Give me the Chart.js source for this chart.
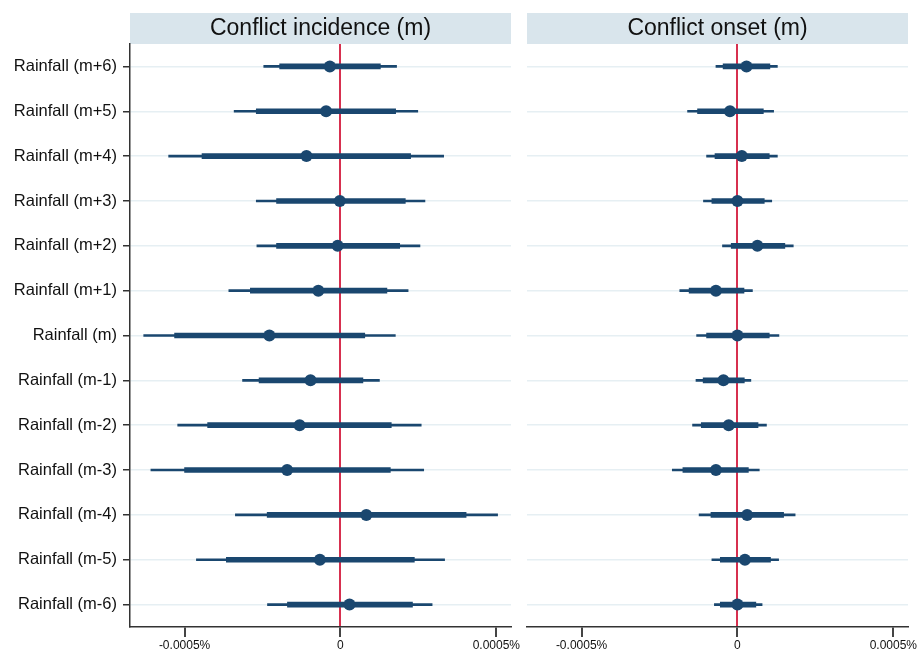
<!DOCTYPE html>
<html>
<head>
<meta charset="utf-8">
<script src="https://cdn.jsdelivr.net/npm/chart.js@4/dist/chart.umd.min.js"></script>
<style>
    html, body { margin: 0; padding: 0; background: #fff; overflow: hidden; }
    #wrap { position: relative; width: 918px; height: 653px; }
    canvas { position: absolute; top: 0; }
</style>
</head>
<body>
<div id="wrap">
    <canvas id="incidence" width="525" height="653" style="left:0"></canvas>
    <canvas id="onset" width="412" height="653" style="left:518px"></canvas>
</div>
<script>
// Coefficient plot - rainfall leads/lags on conflict incidence and onset.

const labels = ['Rainfall (m+6)', 'Rainfall (m+5)', 'Rainfall (m+4)', 'Rainfall (m+3)', 'Rainfall (m+2)',
    'Rainfall (m+1)', 'Rainfall (m)', 'Rainfall (m-1)', 'Rainfall (m-2)', 'Rainfall (m-3)',
    'Rainfall (m-4)', 'Rainfall (m-5)', 'Rainfall (m-6)'];

const xTicks = [-0.0005, 0, 0.0005];

// Conflict incidence (m)
const incPoint = [-0.34e-4, -0.46e-4, -1.09e-4, -0.02e-4, -0.09e-4, -0.71e-4, -2.28e-4,
    -0.96e-4, -1.31e-4, -1.71e-4, 0.83e-4, -0.66e-4, 0.29e-4];
const inc90Low = [-1.95e-4, -2.70e-4, -4.44e-4, -2.05e-4, -2.05e-4, -2.89e-4, -5.32e-4,
    -2.61e-4, -4.26e-4, -5.00e-4, -2.35e-4, -3.66e-4, -1.70e-4];
const inc90High = [1.28e-4, 1.77e-4, 2.25e-4, 2.08e-4, 1.90e-4, 1.49e-4, 0.78e-4,
    0.72e-4, 1.63e-4, 1.60e-4, 4.03e-4, 2.37e-4, 2.31e-4];
const inc95Low = [-2.46e-4, -3.41e-4, -5.51e-4, -2.70e-4, -2.68e-4, -3.58e-4, -6.31e-4,
    -3.14e-4, -5.22e-4, -6.08e-4, -3.37e-4, -4.62e-4, -2.34e-4];
const inc95High = [1.80e-4, 2.48e-4, 3.31e-4, 2.71e-4, 2.55e-4, 2.17e-4, 1.76e-4,
    1.25e-4, 2.59e-4, 2.67e-4, 5.04e-4, 3.34e-4, 2.94e-4];

// Conflict onset (m)
const onsPoint = [0.29e-4, -0.24e-4, 0.14e-4, 0, 0.64e-4, -0.69e-4, 0,
    -0.45e-4, -0.28e-4, -0.69e-4, 0.31e-4, 0.24e-4, 0];
const ons90Low = [-0.46e-4, -1.28e-4, -0.72e-4, -0.82e-4, -0.20e-4, -1.55e-4, -0.99e-4,
    -1.10e-4, -1.16e-4, -1.75e-4, -0.85e-4, -0.55e-4, -0.55e-4];
const ons90High = [1.04e-4, 0.83e-4, 1.02e-4, 0.86e-4, 1.52e-4, 0.21e-4, 1.02e-4,
    0.22e-4, 0.66e-4, 0.35e-4, 1.48e-4, 1.06e-4, 0.59e-4];
const ons95Low = [-0.69e-4, -1.60e-4, -0.99e-4, -1.09e-4, -0.48e-4, -1.85e-4, -1.31e-4,
    -1.33e-4, -1.44e-4, -2.09e-4, -1.23e-4, -0.82e-4, -0.74e-4];
const ons95High = [1.28e-4, 1.16e-4, 1.28e-4, 1.10e-4, 1.79e-4, 0.48e-4, 1.33e-4,
    0.43e-4, 0.93e-4, 0.70e-4, 1.85e-4, 1.32e-4, 0.79e-4];

const NAVY = '#1a476f';
const RED = '#d7304f';
const FONT = "'Liberation Sans', Arial, sans-serif";

// Grey-blue title strip above each panel
const headerPlugin = {
    id: 'header',
    beforeDraw(chart, args, opts) {
        const { ctx, chartArea } = chart;
        ctx.save();
        ctx.fillStyle = '#d9e5ec';
        ctx.fillRect(chartArea.left, 13, chartArea.right - chartArea.left, 31);
        ctx.fillStyle = '#111';
        ctx.font = `23px ${FONT}`;
        ctx.textAlign = 'center';
        ctx.textBaseline = 'middle';
        ctx.fillText(opts.text, (chartArea.left + chartArea.right) / 2, 29);
        ctx.restore();
    },
};

function makePanel(canvasId, title, point, lo90, hi90, lo95, hi95, showLabels, padding) {
    return new Chart(document.getElementById(canvasId), {
        type: 'bar',
        data: {
            labels: labels,
            datasets: [
                {
                    type: 'line',
                    indexAxis: 'y',
                    data: point,
                    showLine: false,
                    pointRadius: 6,
                    pointBackgroundColor: NAVY,
                    pointBorderColor: NAVY,
                    pointBorderWidth: 0,
                    order: 0,
                },
                {
                    data: lo90.map((v, i) => [v, hi90[i]]),
                    backgroundColor: NAVY,
                    barThickness: 5,
                    grouped: false,
                    order: 1,
                },
                {
                    data: lo95.map((v, i) => [v, hi95[i]]),
                    backgroundColor: NAVY,
                    barThickness: 2,
                    grouped: false,
                    order: 2,
                },
            ],
        },
        options: {
            indexAxis: 'y',
            responsive: false,
            animation: false,
            layout: { padding: padding },
            plugins: {
                legend: { display: false },
                tooltip: { enabled: false },
                header: { text: title },
            },
            scales: {
                x: {
                    type: 'linear',
                    min: -0.000675,
                    max: 0.000547,
                    afterBuildTicks: (scale) => { scale.ticks = xTicks.map(v => ({ value: v })); },
                    afterFit: (scale) => { scale.height = 26; },
                    border: { display: true, color: '#333', width: 1.5 },
                    grid: {
                        color: (c) => (c.tick && c.tick.value === 0 ? RED : 'rgba(0,0,0,0)'),
                        lineWidth: 2,
                        tickColor: '#444',
                        tickLength: 10,
                    },
                    ticks: {
                        color: '#111',
                        padding: 1,
                        maxRotation: 0,
                        font: { family: FONT, size: 12 },
                        callback: (v) => (v === 0 ? '0' : v.toFixed(4) + '%'),
                    },
                },
                y: {
                    type: 'category',
                    offset: true,
                    afterFit: (scale) => { scale.width = showLabels ? 130 : 0; },
                    border: { display: showLabels, color: '#333', width: 1.5 },
                    grid: {
                        offset: false,
                        color: '#e6eff3',
                        lineWidth: 1.5,
                        drawTicks: showLabels,
                        tickColor: '#333',
                        tickLength: 7,
                    },
                    ticks: {
                        display: showLabels,
                        color: '#111',
                        padding: 6,
                        font: { family: FONT, size: 16.5 },
                    },
                },
            },
        },
        plugins: [headerPlugin],
    });
}

makePanel('incidence', 'Conflict incidence (m)', incPoint, inc90Low, inc90High, inc95Low, inc95High,
    true, { top: 44, left: 0, right: 14, bottom: 0 });
makePanel('onset', 'Conflict onset (m)', onsPoint, ons90Low, ons90High, ons95Low, ons95High,
    false, { top: 44, left: 9, right: 22, bottom: 0 });
</script>
</body>
</html>
